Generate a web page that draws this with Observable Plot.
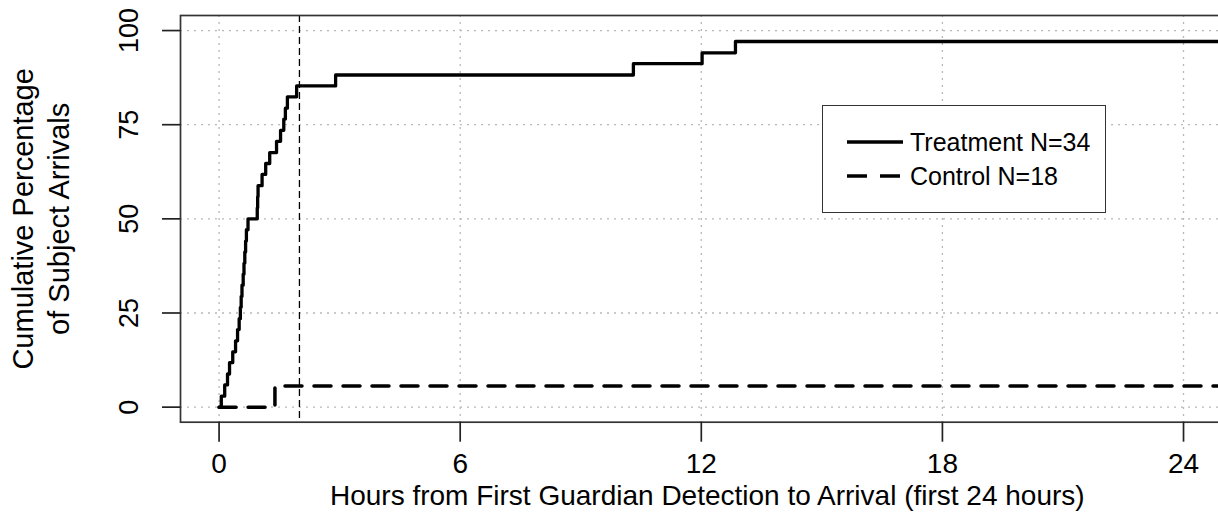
<!DOCTYPE html>
<html>
<head>
<meta charset="utf-8">
<script src="https://cdn.jsdelivr.net/npm/d3@7"></script>
<script src="https://cdn.jsdelivr.net/npm/@observablehq/plot@0.6"></script>
<style>
  html, body { margin: 0; padding: 0; background: white; overflow: hidden; }
  #wrap { position: relative; width: 1218px; height: 516px; }
  #legend { position: absolute; left: 822px; top: 105px; width: 284px; height: 108px;
            box-sizing: border-box; border: 1.7px solid #333; background: white; }
  #legend svg { position: absolute; left: 0; top: 0; }
</style>
</head>
<body>
<div id="wrap"><div id="legend"></div></div>
<script>
// Treatment: arrival hours and cumulative percentage
const treatHours = [0, 0.055, 0.14, 0.21, 0.26, 0.34, 0.41, 0.46, 0.50, 0.53, 0.55, 0.57, 0.60, 0.62, 0.64, 0.66, 0.68, 0.72,
  0.95, 0.96, 0.97, 1.07, 1.16, 1.26, 1.43, 1.53, 1.61, 1.65, 1.70, 1.93, 2.90, 10.31, 12.02, 12.85, 24.96];
const treatPct = [0, 2.9, 5.9, 8.8, 11.8, 14.7, 17.6, 20.6, 23.5, 26.5, 29.4, 32.4, 35.3, 38.2, 41.2, 44.1, 47.1, 50.0,
  52.9, 55.9, 58.8, 61.8, 64.7, 67.6, 70.6, 73.5, 76.5, 79.4, 82.4, 85.3, 88.2, 91.2, 94.1, 97.1, 97.1];
// Control
const ctrlHours = [0, 1.39, 24.96];
const ctrlPct = [0, 5.6, 5.6];
// Reference line (hours)
const refHours = [2];
// Ticks
const xTicks = [0, 6, 12, 18, 24];
const yTicks = [0, 25, 50, 75, 100];
const xTitle = "Hours from First Guardian Detection to Arrival (first 24 hours)";
const yTitle = "Cumulative Percentage\nof Subject Arrivals";
const legendLabels = ["Treatment N=34", "Control N=18"];

const treatment = treatHours.map((h, i) => ({h, p: treatPct[i]}));
const control = ctrlHours.map((h, i) => ({h, p: ctrlPct[i]}));

const font = "'Liberation Sans', Arial, sans-serif";
const chart = Plot.plot({
  width: 1218, height: 516,
  marginLeft: 180, marginRight: -3.6, marginTop: 15, marginBottom: 94.3,
  x: {domain: [-0.96, 24.96]},
  y: {domain: [-4, 104]},
  style: {fontFamily: font, background: "white", color: "black"},
  marks: [
    Plot.gridX(xTicks, {stroke: "#b8b8b8", strokeOpacity: 1, strokeWidth: 1.3, strokeDasharray: "2,5"}),
    Plot.gridY(yTicks, {stroke: "#b8b8b8", strokeOpacity: 1, strokeWidth: 1.3, strokeDasharray: "2,5"}),
    Plot.ruleX(refHours, {stroke: "black", strokeWidth: 1.3, strokeDasharray: "7,4"}),
    Plot.line(control, {x: "h", y: "p", curve: "step-after", stroke: "black", strokeWidth: 3.5, strokeDasharray: "17,12"}),
    Plot.line(treatment, {x: "h", y: "p", curve: "step-after", stroke: "black", strokeWidth: 3.3}),
    Plot.frame({stroke: "#333", strokeWidth: 1.7}),
    Plot.axisX({ticks: xTicks, tickSize: 20, tickPadding: 11, fontSize: 28, label: null, stroke: "#222", strokeWidth: 1.7, fill: "black"}),
    Plot.axisY({ticks: yTicks, tickSize: 18, tickFormat: () => "", label: null, stroke: "#222", strokeWidth: 1.7}),
    Plot.text(yTicks, {frameAnchor: "left", y: d => d, text: d => String(d), rotate: -90, dx: -43,
      textAnchor: "middle", lineAnchor: "bottom", fontSize: 27, fill: "black"}),
    Plot.text([yTitle], {frameAnchor: "left", text: d => d, dx: -112, rotate: -90, textAnchor: "middle",
      lineAnchor: "bottom", lineHeight: 1.22, fontSize: 29, fill: "black"}),
    Plot.text([xTitle], {frameAnchor: "bottom", text: d => d, dx: 6, dy: 83, lineAnchor: "bottom", fontSize: 28, fill: "black"})
  ]
});
document.getElementById("wrap").prepend(chart);

// Legend
const lg = d3.select("#legend").append("svg").attr("width", 284).attr("height", 108)
  .style("font-family", font);
const rows = [{y: 36, dash: null, w: 3.3}, {y: 70, dash: "20,13", w: 3.5}];
rows.forEach((r, i) => {
  lg.append("line").attr("x1", 24).attr("x2", 80).attr("y1", r.y).attr("y2", r.y)
    .attr("stroke", "black").attr("stroke-width", r.w).attr("stroke-dasharray", r.dash);
  lg.append("text").attr("x", 87).attr("y", r.y + 8.5).attr("font-size", 25).attr("fill", "black")
    .text(legendLabels[i]);
});
</script>
</body>
</html>
